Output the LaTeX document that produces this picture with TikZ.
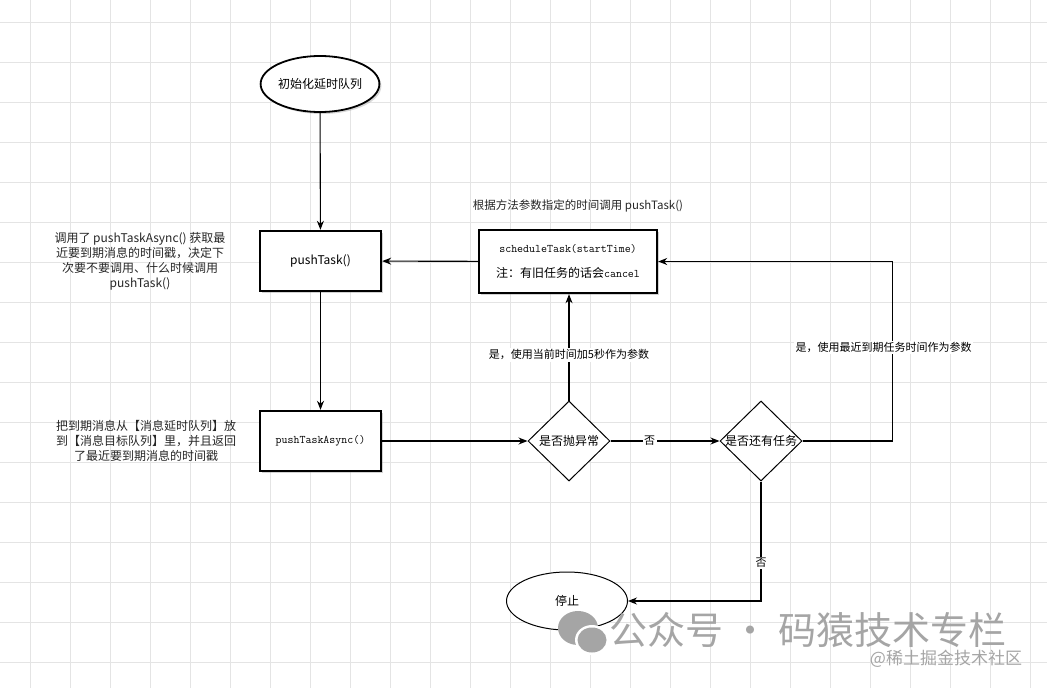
\documentclass[tikz,border=0pt]{standalone}
\usepackage{fontspec}
\setmainfont{Noto Sans CJK SC}
\usetikzlibrary{arrows.meta,shapes.geometric,shadows}

\definecolor{gridgray}{RGB}{228,228,228}
\definecolor{markgray}{RGB}{165,165,165}

\tikzset{
	flow/.style={line width=1.1pt, -{Stealth[length=9pt,width=7pt]}},
	box/.style={draw, line width=2.4pt, fill=white, minimum width=121, minimum height=60, inner sep=2pt,
		drop shadow={shadow xshift=2pt, shadow yshift=-2pt, opacity=0.35}},
	decision/.style={diamond, aspect=1, draw, line width=1pt, fill=white, minimum width=82, minimum height=80, inner sep=0pt},
	lbl/.style={fill=white, inner sep=1.5pt, font=\fontsize{11}{13}\selectfont},
	note/.style={align=center, text=black!85, font=\fontsize{12}{15}\selectfont},
}
\newcommand{\codetxt}[1]{{\ttfamily\fontsize{11.6}{13}\selectfont #1}}

\begin{document}
\begin{tikzpicture}[x=1pt, y=-1pt, font=\fontsize{12}{15}\selectfont]
	\useasboundingbox (0,0) rectangle (1047,688);
	\fill[white] (0,0) rectangle (1047,688);
	% background grid
	\foreach \x in {30,70,...,1030}{
	\draw[gridgray, line width=0.8pt] (\x,0) -- (\x,688);
	}
	\foreach \y in {22,62,...,662}{
	\draw[gridgray, line width=0.8pt] (0,\y) -- (1047,\y);
	}

	% nodes
	\node[ellipse, draw, line width=1.8pt, fill=white, minimum width=99, minimum height=56, inner sep=0pt,
		drop shadow={shadow xshift=2pt, shadow yshift=-2pt, opacity=0.3}] (init) at (320,84) {初始化延时队列};
	\node[box] (push) at (320.5,261) {pushTask()};
	\node[box] (async) at (320.5,441) {\codetxt{pushTaskAsync()}};
	\node[box, minimum width=178, minimum height=63, align=center] (sched) at (568,261.5)
		{\codetxt{scheduleTask(startTime)}\\[10pt]注：有旧任务的话会\codetxt{cancel}};
	\node[decision, label=center:是否抛异常] (thrown) at (569,441) {};
	\node[decision, label=center:是否还有任务] (more) at (761,441) {};
	\node[ellipse, draw, line width=1pt, fill=white, minimum width=121, minimum height=58, inner sep=0pt] (stop) at (567,601) {停止};

	% notes
	\node[note] (notepush) at (140,261) {调用了 pushTaskAsync() 获取最\\近要到期消息的时间戳，决定下\\次要不要调用、什么时候调用\\pushTask()};
	\node[note] (noteasync) at (146,441) {把到期消息从【消息延时队列】放\\到【消息目标队列】里，并且返回\\了最近要到期消息的时间戳};
	\node[note, font=\fontsize{11.5}{14}\selectfont] (notesched) at (578,206) {根据方法参数指定的时间调用 pushTask()};

	% connectors
	\draw[flow] (init) -- (push);
	\draw[flow] (push) -- (async);
	\draw[flow] (async) -- (thrown);
	\draw[flow] (thrown.north) -- node[lbl, pos=0.43] {是，使用当前时间加5秒作为参数} (thrown.north |- sched.south);
	\draw[flow] (sched) -- (push);
	\draw[flow] (thrown) -- node[lbl, pos=0.36] {否} (more);
	\draw[flow] (more.east) -- ++(90,0) |- node[lbl, pos=0.26, xshift=-9] {是，使用最近到期任务时间作为参数} (sched.east);
	\draw[flow] (more.south) |- node[lbl, pos=0.34] {否} (stop.east);

	% watermark
	\fill[markgray] (578,628) ellipse (20 and 17);
	\fill[white] (592,640) ellipse (17 and 15);
	\fill[markgray] (592,640) ellipse (14.5 and 12.5);
	\node[text=markgray, font=\fontsize{38}{40}\selectfont] (mark) at (808,630) {公众号 · 码猿技术专栏};
	\node[text=markgray, font=\fontsize{17}{19}\selectfont] (site) at (946,659) {@稀土掘金技术社区};
\end{tikzpicture}
\end{document}
